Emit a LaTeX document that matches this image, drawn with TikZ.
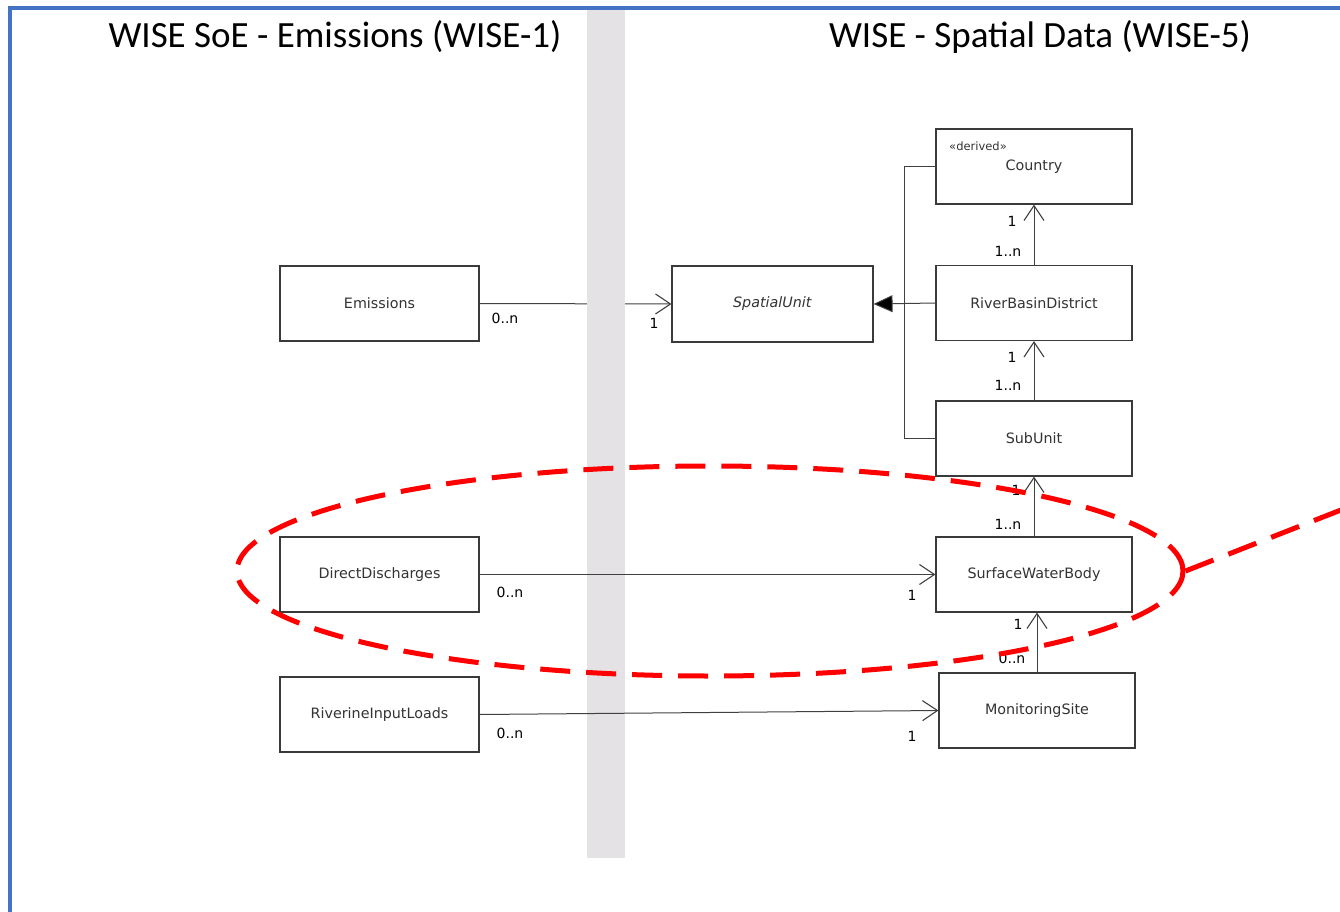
\documentclass[tikz,border=0pt]{standalone}
\usepackage{fontspec}
\setmainfont{DejaVu Sans}
\newfontfamily\titlefont{Carlito}
\usetikzlibrary{arrows.meta,shapes.geometric}
\definecolor{boxc}{HTML}{3A3A3A}
\definecolor{txt}{HTML}{333333}
\definecolor{linec}{HTML}{404040}
\definecolor{barc}{HTML}{E4E2E4}
\definecolor{framec}{HTML}{4472C4}
\definecolor{ellc}{HTML}{FF0000}
\begin{document}
\begin{tikzpicture}[x=1pt,y=-1pt,
 box/.style={draw=boxc,line width=1.1pt,fill=white,minimum width=199pt,minimum height=75pt,inner sep=0pt,font=\fontsize{14.3}{17}\selectfont,text=txt},
 mult/.style={font=\fontsize{14}{16}\selectfont,text=black,inner sep=0pt},
 assoc/.style={draw=linec,line width=1pt,-{Straight Barb[length=15pt,width=20pt,line width=1.1pt]}},
 gen/.style={draw=linec,line width=1pt,-{Triangle[length=19pt,width=17pt,fill=black]}},
 plainline/.style={draw=linec,line width=1pt},
 reddash/.style={draw=ellc,line width=5pt,dash pattern=on 30pt off 16pt},
 titletext/.style={font=\titlefont\fontsize{37}{44}\selectfont,text=black,inner sep=0pt}]
\useasboundingbox (0,0) rectangle (1340,912);
% frame
\draw[framec,line width=4pt] (10,914) -- (10,8) -- (1342,8);
% titles
\node[titletext] (t1) at (335,37) {WISE SoE - Emissions (WISE-1)};
\node[titletext] (t2) at (1040,37) {WISE - Spatial Data (WISE-5)};
% boxes
\node[box] (em) at (379.5,303.5) {Emissions};
\node[box,minimum width=201pt,minimum height=76pt] (su) at (772.5,304) {\textit{SpatialUnit}};
\node[box,minimum width=196pt] (co) at (1034,166.5) {Country};
\node[font=\fontsize{11.5}{13}\selectfont,text=txt,inner sep=0pt] (der) at (978,146) {«derived»};
\node[box,minimum width=196pt] (rbd) at (1034,303) {RiverBasinDistrict};
\node[box,minimum width=196pt] (sub) at (1034,438.5) {SubUnit};
\node[box,minimum width=196pt] (swb) at (1034,574.5) {SurfaceWaterBody};
\node[box,minimum width=196pt] (ms) at (1037,710.5) {MonitoringSite};
\node[box] (dd) at (379.5,574.5) {DirectDischarges};
\node[box] (ril) at (379.5,714.5) {RiverineInputLoads};
% association behind the bar
\draw[assoc] (em.east) -- (su.west);
% bar
\fill[barc] (587,10) rectangle (625,858);
% associations
\draw[assoc] (dd.east) -- (dd.east -| swb.west);
\draw[assoc] (ril.east) -- (ms.west);
\draw[assoc] (rbd.north) -- (co.south);
\draw[assoc] (sub.north) -- (rbd.south);
\draw[assoc] (swb.north) -- (sub.south);
\draw[assoc] (ms.north) -- (ms.north |- swb.south);
% generalization
\draw[gen] (rbd.west) -- (su.east);
\draw[plainline] (co.west) -- ++(-31,0) |- (sub.west);
% multiplicities
\node[mult] (m1) at (505,318) {0..n};
\node[mult] (m2) at (654,323) {1};
\node[mult] (m3) at (510,592) {0..n};
\node[mult] (m4) at (912,595) {1};
\node[mult] (m5) at (510,733) {0..n};
\node[mult] (m6) at (912,736) {1};
\node[mult] (m7) at (1012,221) {1};
\node[mult] (m8) at (1008,251) {1..n};
\node[mult] (m9) at (1012,357) {1};
\node[mult] (m10) at (1008,385) {1..n};
\node[mult] (m11) at (1016,490) {1};
\node[mult] (m12) at (1008,524) {1..n};
\node[mult] (m13) at (1018,624) {1};
\node[mult] (m14) at (1012,658) {0..n};
% red highlight
\node[ellipse,reddash,minimum width=946pt,minimum height=210pt,inner sep=0pt] (ell) at (710,571) {};
\coordinate (tail) at (1346,508);
\draw[reddash] (ell.east) -- (tail);
\end{tikzpicture}
\end{document}
